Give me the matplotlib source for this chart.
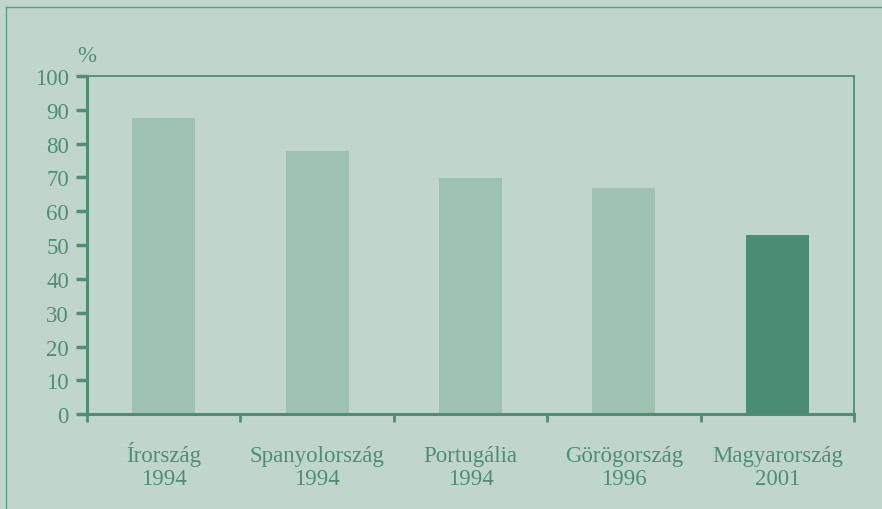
import matplotlib.pyplot as plt
from matplotlib.lines import Line2D

# adatok
countries = ["Írország", "Spanyolország", "Portugália", "Görögország",
             "Magyarország"]
years = ["1994", "1994", "1994", "1996", "2001"]
values = [87.6, 77.9, 69.8, 66.8, 53.1]
highlight = [False, False, False, False, True]

bg = "#c0d6cc"
light = "#9ec2b2"
dark = "#4b8d72"
green = "#4e8f74"

plt.rcParams["font.family"] = ["Liberation Serif", "DejaVu Serif"]
fs = 16.5

fig = plt.figure(figsize=(8.82, 5.10), dpi=100, facecolor=bg)
ax = fig.add_axes([0.0986, 0.186, 0.8697, 0.663], facecolor=bg)

x = list(range(len(countries)))
colors = [dark if h else light for h in highlight]
ax.bar(x, values, width=0.41, color=colors, zorder=2)

ax.set_xlim(-0.5, len(countries) - 0.5)
ax.set_ylim(0, 100)
ax.set_yticks(range(0, 101, 10))
ax.set_xticks([i - 0.5 for i in range(len(countries) + 1)])
ax.set_xticklabels([])
ax.tick_params(axis="x", length=6, width=2, color=green, direction="out")
ax.tick_params(axis="y", length=8, width=2.5, color=green, direction="out",
               labelsize=fs, labelcolor=green, pad=5)

# kategóriafeliratok két sorban, közös alapvonallal
trans = ax.get_xaxis_transform()
for xi, name, yr in zip(x, countries, years):
    ax.text(xi, -0.139, name, transform=trans, ha="center", va="baseline",
            fontsize=fs, color=green, clip_on=False)
    ax.text(xi, -0.207, yr, transform=trans, ha="center", va="baseline",
            fontsize=fs, color=green, clip_on=False)

for side in ["left", "bottom"]:
    ax.spines[side].set_color(green)
    ax.spines[side].set_linewidth(2.2)
for side in ["top", "right"]:
    ax.spines[side].set_color(green)
    ax.spines[side].set_linewidth(1.3)

ax.text(-0.5, 103, "%", fontsize=fs, color=green, ha="center",
        va="bottom", transform=ax.transData)

# keret bal és felső oldalon
fig.add_artist(Line2D([6 / 882, 6 / 882], [0, 1 - 8 / 510],
                      transform=fig.transFigure, color="#5c9b82", lw=1.0))
fig.add_artist(Line2D([6 / 882, 1], [1 - 8 / 510, 1 - 8 / 510],
                      transform=fig.transFigure, color="#5c9b82", lw=1.0))

fig.savefig("out.png", dpi=100, facecolor=bg)
